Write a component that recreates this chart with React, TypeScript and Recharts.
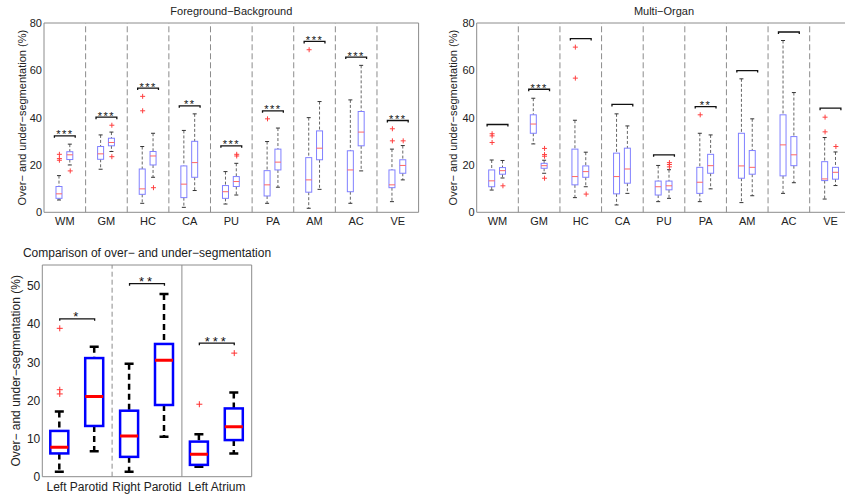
import React from 'react'
import { ComposedChart, Bar, Scatter, XAxis, YAxis, ReferenceLine, ReferenceArea } from 'recharts'

const FONT = '"Liberation Sans", Arial, Helvetica, sans-serif'
const Y_LABEL = 'Over\u2212 and under\u2212segmentation (%)'

// each box: [whisker low, q1, median, q3, whisker high]
const organs = ['WM', 'GM', 'HC', 'CA', 'PU', 'PA', 'AM', 'AC', 'VE']

const fgFirst = [
  [5.2, 5.9, 7.8, 10.9, 15.5],
  [18.2, 22.4, 24.7, 27.8, 32.7],
  [3.8, 7.6, 9.9, 18.3, 27.8],
  [2.1, 6.2, 11.9, 19.6, 34.6],
  [3.5, 5.9, 8.7, 11.3, 17.2],
  [3.8, 6.9, 11.6, 17.6, 29.9],
  [1.7, 8.5, 13.7, 23.1, 40],
  [3.8, 8.7, 17.9, 26, 47.5],
  [4.5, 10.4, 11.6, 17.9, 26.7],
]
const fgSecond = [
  [20, 22.3, 24.3, 25.6, 28.8],
  [25.7, 28.1, 29.5, 31.3, 33.9],
  [14.8, 20, 23.8, 25.7, 33.4],
  [9.2, 14.8, 21, 30, 41.6],
  [7.3, 10.9, 13, 15.1, 20.7],
  [10.6, 17.9, 21.2, 26.7, 35.6],
  [9.7, 22.2, 27.1, 34.4, 46.8],
  [17.5, 28.1, 33.9, 42.6, 62.1],
  [13.7, 16.5, 19.8, 22.2, 28.2],
]
const fgOutFirst = [[24.5, 22.7, 22.0], [], [49, 42.9], [], [], [39.5], [68.7], [], [35.3, 30.2]]
const fgOutSecond = [[17.5], [36.8, 23.5], [10.4], [], [24.5, 23.8], [], [], [], [30.2]]
const fgBracket = [32.3, 40.2, 52.5, 45, 28.1, 42.9, 72.2, 65.6, 38.8]
const fgStars = ['***', '***', '***', '**', '***', '***', '***', '***', '***']

const moFirst = [
  [9.4, 10.8, 13.3, 17.9, 22.1],
  [28.9, 33.4, 37.3, 41.2, 48.2],
  [6.2, 11.6, 15.1, 26.7, 38.9],
  [3.1, 7.8, 15.1, 25, 41.6],
  [4.5, 7.3, 10.8, 13.2, 19.8],
  [4.5, 8, 12.7, 19, 33.4],
  [4.1, 14.4, 19.6, 33.4, 56.4],
  [8, 15.4, 28.5, 41.2, 72.6],
  [5.6, 13.4, 14.1, 21.4, 31.6],
]
const moSecond = [
  [14.5, 16.1, 17.6, 18.9, 21.9],
  [16.5, 18.6, 19.7, 20.7, 22],
  [10.8, 14.8, 17.2, 19.6, 25.4],
  [8, 12.3, 18.3, 27.1, 36.5],
  [5.9, 9.5, 11.2, 13.2, 18],
  [9.9, 16.5, 19.7, 24.5, 32.7],
  [7, 16.1, 19, 26.1, 39.5],
  [12.5, 19.7, 24.3, 32, 50.6],
  [11.3, 14, 16.9, 19, 25.5],
]
const moOutFirst = [[33.2, 32.3, 29.5], [], [69.8, 56.7], [], [], [41.2], [], [], [40.2, 34]]
const moOutSecond = [[11.2], [27, 24.4, 23.7, 14.4], [7.7], [], [21, 20.2, 19.2], [], [], [], [27.8]]
const moBracket = [37.1, 52, 73.4, 45.6, 24.3, 44.7, 59.9, 76.2, 44]
const moStars = ['', '***', '', '', '', '**', '', '', '']

const structures = ['Left Parotid', 'Right Parotid', 'Left Atrium']
const cmpFirst = [
  [1.3, 6.1, 7.7, 12, 17.1],
  [1.3, 5.2, 10.7, 17.3, 29.6],
  [2.6, 3.1, 5.9, 9.2, 11.1],
]
const cmpSecond = [
  [6.7, 13.3, 21, 31.1, 34.1],
  [10.5, 18.8, 30.5, 34.8, 47.9],
  [6.1, 9.6, 13.1, 17.9, 22.1],
]
const cmpOutFirst = [[38.9, 22.8, 21.7], [], [19]]
const cmpOutSecond = [[], [], [32.4]]
const cmpBracket = [41.4, 50.6, 35]
const cmpStars = ['*', '**', '***']

type Look = {
  box: string
  boxW: number
  med: string
  medW: number
  whisker: string
  whiskerW: number
  dash: string
  cap: string
  capHalf: number
  out: string
  plusHalf: number
  starSize: number
  starSpacing: number
  bracketW: number
}

const thin: Look = {
  box: '#8080ff', boxW: 1, med: '#ff6666', medW: 1, whisker: '#666', whiskerW: 1, dash: '3 2',
  cap: '#333', capHalf: 2, out: '#ff4040', plusHalf: 2.5, starSize: 11, starSpacing: 1.5, bracketW: 1.3,
}
const bold: Look = {
  box: '#0000ff', boxW: 2.5, med: '#ff0000', medW: 3, whisker: '#000', whiskerW: 2.5, dash: '6 4',
  cap: '#000', capHalf: 4.5, out: '#ff3030', plusHalf: 3, starSize: 13, starSpacing: 3, bracketW: 1.3,
}

const boxShape = (s: Look) => (props: any) => {
  const { x, y, width, height, payload } = props
  const { lo, q1, med, q3, hi } = payload
  const py = (v: number) => y + ((hi - v) / (hi - lo)) * height
  const cx = x + width / 2
  return (
    <g>
      <line x1={cx} x2={cx} y1={py(hi)} y2={py(q3)} stroke={s.whisker} strokeWidth={s.whiskerW} strokeDasharray={s.dash} />
      <line x1={cx} x2={cx} y1={py(q1)} y2={py(lo)} stroke={s.whisker} strokeWidth={s.whiskerW} strokeDasharray={s.dash} />
      <line x1={cx - s.capHalf} x2={cx + s.capHalf} y1={py(hi)} y2={py(hi)} stroke={s.cap} strokeWidth={s.whiskerW} />
      <line x1={cx - s.capHalf} x2={cx + s.capHalf} y1={py(lo)} y2={py(lo)} stroke={s.cap} strokeWidth={s.whiskerW} />
      <rect x={x} y={py(q3)} width={width} height={py(q1) - py(q3)} fill="none" stroke={s.box} strokeWidth={s.boxW} />
      <line x1={x} x2={x + width} y1={py(med)} y2={py(med)} stroke={s.med} strokeWidth={s.medW} />
    </g>
  )
}

const plusShape = (s: Look) => (props: any) => {
  const { cx, cy } = props
  const h = s.plusHalf
  return <path d={`M${cx - h},${cy}H${cx + h}M${cx},${cy - h}V${cy + h}`} stroke={s.out} strokeWidth={1} />
}

const bracketShape = (stars: string, s: Look) => (props: any) => {
  const { x1, y1, x2, y2 } = props
  return (
    <g>
      <path d={`M${x1},${y1 + 2}V${y1}H${x2}V${y2 + 2}`} fill="none" stroke="#111" strokeWidth={s.bracketW} />
      {stars && (
        <text x={(x1 + x2) / 2} y={y1 + 2.5} textAnchor="middle" fontSize={s.starSize} fontFamily={FONT}
          letterSpacing={s.starSpacing} fill="#111">{stars}</text>
      )}
    </g>
  )
}

type PanelProps = {
  categories: string[]
  first: number[][]
  second: number[][]
  outFirst: number[][]
  outSecond: number[][]
  bracket: number[]
  stars: string[]
  yMax: number
  yTicks: number[]
  spread: number
  barSize: number
  look: Look
  width: number
  height: number
  margin: { top: number; right: number; bottom: number; left: number }
  yAxisWidth: number
  xAxisHeight: number
  fontSize: number
  tickGap: number
  labelOffset: number
  sepDash: string[]
}

function BoxPanel(p: PanelProps) {
  const toRow = (pos: number, b: number[]) => ({ pos, lo: b[0], q1: b[1], med: b[2], q3: b[3], hi: b[4] })
  const rows = p.categories.flatMap((_, i) => [toRow(i + 1 - p.spread, p.first[i]), toRow(i + 1 + p.spread, p.second[i])])
  const outliers = p.categories.flatMap((_, i) => [
    ...p.outFirst[i].map((v) => ({ pos: i + 1 - p.spread, v })),
    ...p.outSecond[i].map((v) => ({ pos: i + 1 + p.spread, v })),
  ])
  const n = p.categories.length
  const tickStyle = { fill: '#222', fontSize: p.fontSize, fontFamily: FONT }
  return (
    <ComposedChart width={p.width} height={p.height} data={rows} margin={p.margin}>
      <XAxis
        type="number"
        dataKey="pos"
        domain={[0.5, n + 0.5]}
        allowDataOverflow
        ticks={p.categories.map((_, i) => i + 1)}
        tickFormatter={(v: number) => p.categories[v - 1]}
        interval={0}
        axisLine={false}
        tickLine={false}
        tickSize={2}
        tickMargin={p.tickGap}
        height={p.xAxisHeight}
        tick={tickStyle}
      />
      <YAxis
        type="number"
        domain={[0, p.yMax]}
        allowDataOverflow
        ticks={p.yTicks}
        interval={0}
        axisLine={false}
        tickLine={false}
        tickSize={2}
        tickMargin={0}
        width={p.yAxisWidth}
        tick={tickStyle}
        label={{
          value: Y_LABEL,
          angle: -90,
          position: 'insideLeft',
          offset: p.labelOffset,
          style: { textAnchor: 'middle', fontSize: p.fontSize, fontFamily: FONT, fill: '#222' },
        }}
      />
      <ReferenceArea x1={0.5} x2={n + 0.5} y1={0} y2={p.yMax} fill="none" stroke="#8c8c8c" strokeWidth={1} ifOverflow="visible" />
      {p.sepDash.map((d, i) => (
        <ReferenceLine key={`sep${i}`} x={i + 1.5} stroke="#8c8c8c" strokeWidth={1} strokeDasharray={d || undefined} />
      ))}
      <Bar dataKey={(d: any) => [d.lo, d.hi]} barSize={p.barSize} shape={boxShape(p.look)} isAnimationActive={false} />
      <Scatter data={outliers} dataKey="v" shape={plusShape(p.look)} isAnimationActive={false} />
      {p.bracket.map((h, i) => (
        <ReferenceLine
          key={`br${i}`}
          segment={[{ x: i + 1 - 0.25, y: h }, { x: i + 1 + 0.25, y: h }]}
          shape={bracketShape(p.stars[i], p.look)}
          ifOverflow="visible"
        />
      ))}
    </ComposedChart>
  )
}

const title = (text: string, cx: number, cy: number, size: number) => (
  <div
    style={{
      position: 'absolute', left: cx - 200, top: cy - size * 0.6, width: 400, textAlign: 'center',
      fontSize: size, lineHeight: `${size * 1.2}px`, fontFamily: FONT, color: '#222', whiteSpace: 'nowrap',
    }}
  >
    {text}
  </div>
)

const topSeps = ['6 3', '6 3', '6 3', '6 3', '6 3', '6 3', '6 3', '6 3']

export default function App() {
  return (
    <div style={{ position: 'absolute', left: 0, top: 0, width: 845, height: 495, overflow: 'hidden', background: '#fff' }}>
      {title('Foreground\u2212Background', 231.3, 12, 11)}
      {title('Multi\u2212Organ', 664, 12, 11)}
      {title('Comparison of over\u2212 and under\u2212segmentation', 147, 253, 12)}
      <div style={{ position: 'absolute', left: 0, top: 0 }}>
        <BoxPanel
          categories={organs} first={fgFirst} second={fgSecond} outFirst={fgOutFirst} outSecond={fgOutSecond}
          bracket={fgBracket} stars={fgStars} yMax={80} yTicks={[0, 20, 40, 60, 80]} spread={0.13} barSize={6}
          look={thin} width={430} height={240} margin={{ top: 23, right: 11.4, bottom: 5.7, left: 14 }}
          yAxisWidth={30} xAxisHeight={22} fontSize={11} tickGap={2.5} labelOffset={8} sepDash={topSeps}
        />
      </div>
      <div style={{ position: 'absolute', left: 433, top: 0 }}>
        <BoxPanel
          categories={organs} first={moFirst} second={moSecond} outFirst={moOutFirst} outSecond={moOutSecond}
          bracket={moBracket} stars={moStars} yMax={80} yTicks={[0, 20, 40, 60, 80]} spread={0.13} barSize={6}
          look={thin} width={430} height={240} margin={{ top: 23, right: 11.7, bottom: 5.7, left: 13.7 }}
          yAxisWidth={30} xAxisHeight={22} fontSize={11} tickGap={2.5} labelOffset={6.3} sepDash={topSeps}
        />
      </div>
      <div style={{ position: 'absolute', left: 0, top: 245 }}>
        <BoxPanel
          categories={structures} first={cmpFirst} second={cmpSecond} outFirst={cmpOutFirst} outSecond={cmpOutSecond}
          bracket={cmpBracket} stars={cmpStars} yMax={55.5} yTicks={[0, 10, 20, 30, 40, 50]} spread={0.25} barSize={18}
          look={bold} width={262} height={250} margin={{ top: 20, right: 10.3, bottom: 0.3, left: 14.3 }}
          yAxisWidth={28} xAxisHeight={18} fontSize={12} tickGap={4} labelOffset={1} sepDash={['5 3', '']}
        />
      </div>
    </div>
  )
}
